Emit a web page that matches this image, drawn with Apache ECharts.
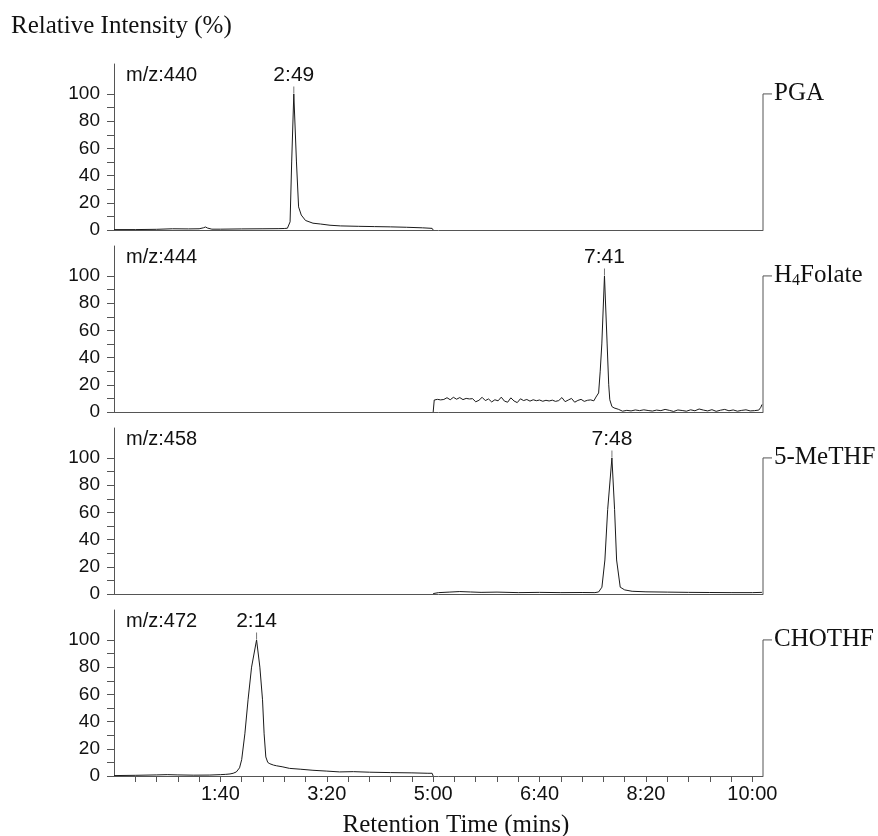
<!DOCTYPE html>
<html>
<head>
<meta charset="utf-8">
<script src="https://cdn.jsdelivr.net/npm/echarts@6/dist/echarts.min.js"></script>
<style>
  html, body { margin: 0; padding: 0; background: #fff; }
  #chart { width: 878px; height: 836px; }
</style>
</head>
<body>
<div id="chart"></div>
<script>
// retention time in seconds, intensity in %
const pgaTime = [0, 20, 40, 55, 70, 80, 84, 86, 88, 92, 100, 120, 140, 155, 160, 163, 164.5, 165.5, 167, 169, 171.5, 173.5, 176, 180, 187, 194, 203, 213, 230, 245, 260, 275, 290, 299, 300]
const pgaInt = [0.3, 0.3, 0.5, 0.9, 0.8, 0.9, 1.6, 2.2, 1.4, 0.6, 0.6, 0.8, 0.9, 1.0, 1.1, 1.3, 1.8, 6, 50, 100, 50, 17, 11, 7, 5, 4.4, 3.5, 3, 2.7, 2.5, 2.3, 2, 1.6, 1.2, 0]

const h4Time = [300, 301, 304, 307, 310, 313, 316, 319, 322, 325, 328, 331, 334, 337, 340, 343, 346, 349, 352, 355, 358, 361, 364, 367, 370, 373, 376, 379, 382, 385, 388, 391, 394, 397, 400, 403, 406, 409, 412, 415, 418, 421, 424, 427, 430, 433, 436, 439, 442, 445, 448, 451, 453, 455.5, 457, 458.5, 461, 463.5, 465, 466, 468, 470, 474, 478, 482, 486, 490, 494, 498, 502, 506, 510, 514, 518, 522, 526, 530, 534, 538, 542, 546, 550, 554, 558, 562, 566, 570, 574, 578, 582, 586, 590, 594, 598, 602, 606, 608, 609]
const h4Int = [0, 8.8, 9.3, 8.9, 9.2, 10.5, 9.0, 10.8, 9.4, 10.6, 9.1, 10.0, 9.6, 9.8, 7.5, 8.6, 10.8, 8.4, 9.6, 7.4, 9.0, 8.2, 10.9, 8.0, 7.2, 10.4, 8.1, 6.9, 9.7, 8.4, 9.2, 8.0, 9.0, 8.3, 8.8, 7.9, 8.6, 8.1, 8.7, 7.8, 8.4, 10.6, 7.6, 8.8, 10.0, 7.2, 8.5, 9.3, 7.8, 8.6, 8.9, 8.2, 11, 14, 30, 50, 100, 50, 20, 9, 4, 3, 2, 0.6, 1.2, 0.8, 1.5, 1.0, 1.6, 1.1, 0.7, 1.4, 1.0, 1.9, 1.2, 0.4, 1.5, 1.1, 0.6, 1.6, 0.9, 2.2, 1.4, 0.8, 1.7, 0.5, 1.3, 1.9, 0.9, 1.5, 0.6, 1.2, 1.6, 0.8, 1.0, 1.4, 3.5, 5.5]

const meTime = [300, 305, 315, 325, 335, 345, 360, 380, 400, 420, 440, 452, 455.5, 458.6, 461.4, 464, 468, 470.5, 472.4, 475.8, 480, 487, 500, 520, 540, 560, 580, 600, 609]
const meInt = [0.3, 1.0, 1.4, 1.8, 1.5, 1.2, 1.4, 1.0, 1.2, 1.0, 1.1, 1.0, 1.5, 5, 25, 62, 100, 62, 25, 5, 3, 2, 1.6, 1.4, 1.2, 1.1, 1.0, 1.0, 1.2]

const choTime = [0, 20, 40, 50, 60, 75, 90, 100, 105, 109, 112, 115, 118, 120, 123, 126, 129.3, 134, 137.1, 139.6, 141.1, 142.7, 144.5, 146.5, 150, 152.8, 158, 165, 175, 187, 200, 212, 225, 240, 260, 280, 295, 299, 300]
const choInt = [0.3, 0.5, 0.8, 1.0, 0.8, 0.6, 0.7, 1.0, 1.2, 1.5, 2, 3, 6, 12, 31, 56, 80, 100, 80, 56, 31, 14, 10, 9, 8, 7.5, 6.8, 5.6, 5.0, 4.2, 3.6, 3.0, 3.2, 2.8, 2.5, 2.3, 2.0, 2.0, 0]

const massLabels = ['m/z:440', 'm/z:444', 'm/z:458', 'm/z:472']
const compoundNames = ['PGA', 'H{sub|4}Folate', '5-MeTHF', 'CHOTHF']
const peakTimes = [169, 461, 468, 134]
const yTickValues = [0, 10, 20, 30, 40, 50, 60, 70, 80, 90, 100]
const yLabelValues = [0, 20, 40, 60, 80, 100]
const xTickValues = [20, 40, 60, 80, 100, 120, 140, 160, 180, 200, 220, 240, 260, 280, 300, 320, 340, 360, 380, 400, 420, 440, 460, 480, 500, 520, 540, 560, 580, 600]
const xLabelValues = [100, 200, 300, 400, 500, 600]

const traces = [
  [pgaTime, pgaInt],
  [h4Time, h4Int],
  [meTime, meInt],
  [choTime, choInt],
]

const X_MAX = 610
const Y_MAX = 122
const SANS = 'Liberation Sans, Arial, sans-serif'
const SERIF = 'Liberation Serif, Times New Roman, serif'
const AXIS_COLOR = '#555'
const LINE_COLOR = '#1a1a1a'

function fmtTime(sec) {
  const m = Math.floor(sec / 60)
  const s = Math.round(sec - m * 60)
  return m + ':' + String(s).padStart(2, '0')
}

const panelTops = [64, 246, 428, 610]

const grids = panelTops.map((top) => ({ left: 114, width: 649, top: top, height: 166 }))

const xAxes = panelTops.map((_, i) => {
  const last = i === panelTops.length - 1
  return {
    type: 'value',
    gridIndex: i,
    min: 0,
    max: X_MAX,
    axisLine: { show: true, lineStyle: { color: AXIS_COLOR, width: 1 } },
    axisTick: {
      show: last,
      length: 6,
      customValues: xTickValues,
      lineStyle: { color: AXIS_COLOR },
    },
    axisLabel: {
      show: last,
      customValues: xLabelValues,
      formatter: (v) => fmtTime(v),
      margin: 8,
      color: '#111',
      fontSize: 20,
      fontFamily: SANS,
    },
    splitLine: { show: false },
  }
})

const yAxes = panelTops.map((_, i) => ({
  type: 'value',
  gridIndex: i,
  min: 0,
  max: Y_MAX,
  name: massLabels[i],
  nameLocation: 'end',
  nameGap: -1,
  nameTextStyle: {
    align: 'left',
    verticalAlign: 'top',
    padding: [0, 0, 0, 12],
    color: '#111',
    fontSize: 20,
    fontFamily: SANS,
  },
  axisLine: { show: true, lineStyle: { color: AXIS_COLOR, width: 1 } },
  axisTick: { show: true, length: 7, customValues: yTickValues, lineStyle: { color: AXIS_COLOR } },
  axisLabel: {
    customValues: yLabelValues,
    margin: 14,
    color: '#111',
    fontSize: 19,
    fontFamily: SANS,
  },
  splitLine: { show: false },
}))

const series = traces.map(([times, ints], i) => ({
  type: 'line',
  xAxisIndex: i,
  yAxisIndex: i,
  data: times.map((t, j) => [t, ints[j]]),
  showSymbol: false,
  symbol: 'none',
  lineStyle: { color: LINE_COLOR, width: 1 },
  animation: false,
  markPoint: {
    symbol: 'rect',
    symbolSize: [1, 7],
    symbolOffset: [0, -4],
    itemStyle: { color: '#777' },
    label: {
      show: true,
      position: 'top',
      distance: 1,
      formatter: fmtTime(peakTimes[i]),
      color: '#111',
      fontSize: 21,
      fontFamily: SANS,
    },
    data: [{ coord: [peakTimes[i], 100] }],
  },
}))

const chart = echarts.init(document.getElementById('chart'))
chart.setOption({
  animation: false,
  backgroundColor: '#fff',
  title: [
    {
      text: 'Relative Intensity (%)',
      left: 6,
      top: 9,
      textStyle: { fontSize: 25, fontWeight: 'normal', color: '#111', fontFamily: SERIF },
    },
    {
      text: 'Retention Time (mins)',
      left: 451,
      textAlign: 'center',
      top: 808,
      textStyle: { fontSize: 25, fontWeight: 'normal', color: '#111', fontFamily: SERIF },
    },
  ],
  grid: grids,
  xAxis: xAxes,
  yAxis: yAxes,
  series: series,
})

// bracket + compound name on the right of each panel
const graphics = []
compoundNames.forEach((name, i) => {
  const p100 = chart.convertToPixel({ xAxisIndex: i, yAxisIndex: i }, [X_MAX, 100])
  const p0 = chart.convertToPixel({ xAxisIndex: i, yAxisIndex: i }, [X_MAX, 0])
  graphics.push({
    type: 'polyline',
    silent: true,
    shape: { points: [[p0[0], p0[1]], [p100[0], p100[1]], [p100[0] + 9, p100[1]]] },
    style: { stroke: AXIS_COLOR, lineWidth: 1, fill: null },
  })
  graphics.push({
    type: 'text',
    silent: true,
    x: p100[0] + 11,
    y: p100[1],
    style: {
      text: name,
      fill: '#111',
      font: '25px ' + SERIF,
      verticalAlign: 'middle',
      rich: {
        sub: { fontSize: 16, fontFamily: SERIF, verticalAlign: 'bottom', fill: '#111' },
      },
    },
  })
})
chart.setOption({ graphic: graphics })
</script>
</body>
</html>
